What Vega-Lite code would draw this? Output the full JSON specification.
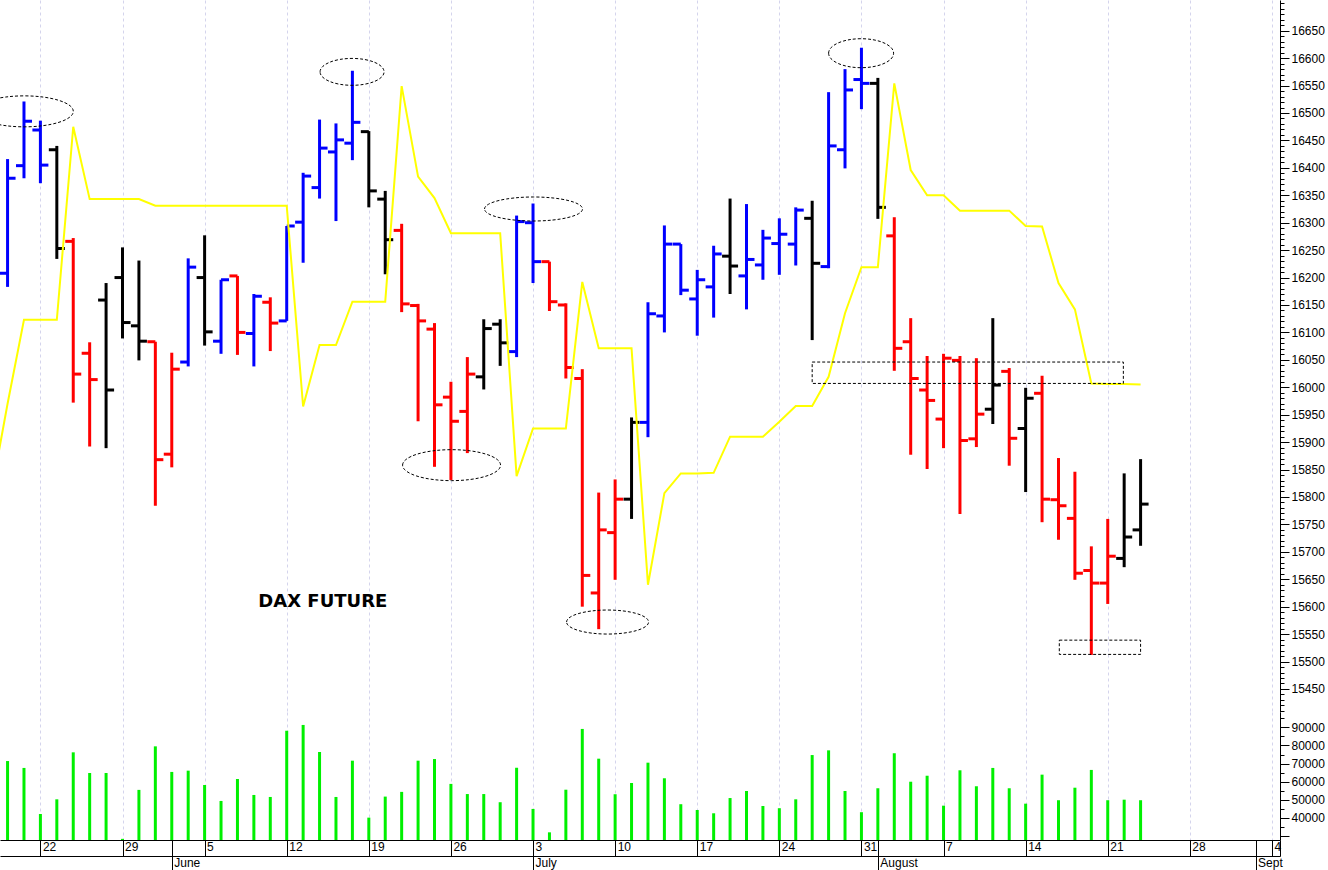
{
  "$schema": "https://vega.github.io/schema/vega-lite/v6.json",
  "padding": 0,
  "background": "white",
  "spacing": 0,
  "config": {
    "view": {"stroke": null},
    "axis": {"labelFont": "Liberation Sans", "labelFontSize": 12, "labelColor": "#000000", "domainColor": "#000000", "tickColor": "#000000", "domainWidth": 1, "tickWidth": 1}
  },
  "datasets": {
    "bars": [
      {"i":0,"date":"2023-05-18","open":16208,"high":16416,"low":16183,"close":16381,"signal":"up","volume":71400},
      {"i":1,"date":"2023-05-19","open":16404,"high":16521,"low":16381,"close":16485,"signal":"up","volume":67600},
      {"i":2,"date":"2023-05-22","open":16469,"high":16486,"low":16372,"close":16405,"signal":"up","volume":42200},
      {"i":3,"date":"2023-05-23","open":16433,"high":16440,"low":16234,"close":16253,"signal":"flat","volume":50300},
      {"i":4,"date":"2023-05-24","open":16266,"high":16272,"low":15972,"close":16024,"signal":"down","volume":76200},
      {"i":5,"date":"2023-05-25","open":16062,"high":16082,"low":15892,"close":16014,"signal":"down","volume":64800},
      {"i":6,"date":"2023-05-26","open":16159,"high":16190,"low":15889,"close":15995,"signal":"flat","volume":64800},
      {"i":7,"date":"2023-05-29","open":16200,"high":16255,"low":16089,"close":16118,"signal":"flat","volume":28500},
      {"i":8,"date":"2023-05-30","open":16112,"high":16231,"low":16049,"close":16084,"signal":"flat","volume":55500},
      {"i":9,"date":"2023-05-31","open":16083,"high":16083,"low":15784,"close":15868,"signal":"down","volume":79500},
      {"i":10,"date":"2023-06-01","open":15878,"high":16063,"low":15854,"close":16033,"signal":"down","volume":65400},
      {"i":11,"date":"2023-06-02","open":16046,"high":16235,"low":16038,"close":16219,"signal":"up","volume":66100},
      {"i":12,"date":"2023-06-05","open":16200,"high":16277,"low":16076,"close":16101,"signal":"flat","volume":58200},
      {"i":13,"date":"2023-06-06","open":16084,"high":16196,"low":16061,"close":16196,"signal":"up","volume":49400},
      {"i":14,"date":"2023-06-07","open":16203,"high":16203,"low":16059,"close":16100,"signal":"down","volume":61500},
      {"i":15,"date":"2023-06-08","open":16098,"high":16170,"low":16038,"close":16166,"signal":"up","volume":52700},
      {"i":16,"date":"2023-06-09","open":16155,"high":16164,"low":16066,"close":16117,"signal":"down","volume":51600},
      {"i":17,"date":"2023-06-12","open":16121,"high":16294,"low":16121,"close":16294,"signal":"up","volume":88100},
      {"i":18,"date":"2023-06-13","open":16301,"high":16391,"low":16227,"close":16385,"signal":"up","volume":91300},
      {"i":19,"date":"2023-06-14","open":16364,"high":16488,"low":16344,"close":16436,"signal":"up","volume":76400},
      {"i":20,"date":"2023-06-15","open":16429,"high":16481,"low":16303,"close":16451,"signal":"up","volume":51600},
      {"i":21,"date":"2023-06-16","open":16445,"high":16577,"low":16414,"close":16483,"signal":"up","volume":71600},
      {"i":22,"date":"2023-06-19","open":16466,"high":16467,"low":16328,"close":16358,"signal":"flat","volume":40200},
      {"i":23,"date":"2023-06-20","open":16343,"high":16358,"low":16206,"close":16269,"signal":"flat","volume":51800},
      {"i":24,"date":"2023-06-21","open":16286,"high":16298,"low":16137,"close":16152,"signal":"down","volume":54400},
      {"i":25,"date":"2023-06-22","open":16149,"high":16152,"low":15938,"close":16121,"signal":"down","volume":71600},
      {"i":26,"date":"2023-06-23","open":16106,"high":16117,"low":15855,"close":15968,"signal":"down","volume":72500},
      {"i":27,"date":"2023-06-26","open":15982,"high":16010,"low":15831,"close":15938,"signal":"down","volume":58800},
      {"i":28,"date":"2023-06-27","open":15956,"high":16055,"low":15880,"close":16024,"signal":"down","volume":53200},
      {"i":29,"date":"2023-06-28","open":16019,"high":16124,"low":15996,"close":16107,"signal":"flat","volume":53200},
      {"i":30,"date":"2023-06-29","open":16115,"high":16124,"low":16039,"close":16081,"signal":"flat","volume":48700},
      {"i":31,"date":"2023-06-30","open":16065,"high":16313,"low":16055,"close":16302,"signal":"up","volume":67700},
      {"i":32,"date":"2023-07-03","open":16300,"high":16335,"low":16190,"close":16229,"signal":"up","volume":45000},
      {"i":33,"date":"2023-07-04","open":16229,"high":16229,"low":16139,"close":16156,"signal":"down","volume":32100},
      {"i":34,"date":"2023-07-05","open":16150,"high":16153,"low":16016,"close":16036,"signal":"down","volume":55600},
      {"i":35,"date":"2023-07-06","open":16016,"high":16033,"low":15600,"close":15657,"signal":"down","volume":89100},
      {"i":36,"date":"2023-07-07","open":15625,"high":15808,"low":15559,"close":15740,"signal":"down","volume":72700},
      {"i":37,"date":"2023-07-10","open":15735,"high":15832,"low":15649,"close":15796,"signal":"down","volume":53100},
      {"i":38,"date":"2023-07-11","open":15796,"high":15945,"low":15760,"close":15936,"signal":"flat","volume":59300},
      {"i":39,"date":"2023-07-12","open":15936,"high":16155,"low":15909,"close":16134,"signal":"up","volume":70500},
      {"i":40,"date":"2023-07-13","open":16130,"high":16295,"low":16100,"close":16261,"signal":"up","volume":61900},
      {"i":41,"date":"2023-07-14","open":16261,"high":16261,"low":16168,"close":16177,"signal":"up","volume":47600},
      {"i":42,"date":"2023-07-17","open":16161,"high":16214,"low":16094,"close":16196,"signal":"up","volume":44400},
      {"i":43,"date":"2023-07-18","open":16183,"high":16258,"low":16127,"close":16243,"signal":"up","volume":42600},
      {"i":44,"date":"2023-07-19","open":16239,"high":16344,"low":16170,"close":16221,"signal":"flat","volume":51000},
      {"i":45,"date":"2023-07-20","open":16203,"high":16334,"low":16142,"close":16233,"signal":"up","volume":54900},
      {"i":46,"date":"2023-07-21","open":16223,"high":16287,"low":16196,"close":16272,"signal":"up","volume":46600},
      {"i":47,"date":"2023-07-24","open":16262,"high":16308,"low":16205,"close":16279,"signal":"up","volume":45400},
      {"i":48,"date":"2023-07-25","open":16261,"high":16328,"low":16222,"close":16323,"signal":"up","volume":50300},
      {"i":49,"date":"2023-07-26","open":16308,"high":16340,"low":16086,"close":16226,"signal":"flat","volume":74700},
      {"i":50,"date":"2023-07-27","open":16220,"high":16538,"low":16217,"close":16440,"signal":"up","volume":77300},
      {"i":51,"date":"2023-07-28","open":16433,"high":16580,"low":16399,"close":16542,"signal":"up","volume":54900},
      {"i":52,"date":"2023-07-31","open":16561,"high":16619,"low":16507,"close":16554,"signal":"up","volume":43200},
      {"i":53,"date":"2023-08-01","open":16554,"high":16564,"low":16307,"close":16328,"signal":"flat","volume":56400},
      {"i":54,"date":"2023-08-02","open":16276,"high":16310,"low":16030,"close":16071,"signal":"down","volume":75700},
      {"i":55,"date":"2023-08-03","open":16083,"high":16126,"low":15877,"close":16016,"signal":"down","volume":60000},
      {"i":56,"date":"2023-08-04","open":15995,"high":16057,"low":15851,"close":15976,"signal":"down","volume":63300},
      {"i":57,"date":"2023-08-07","open":15942,"high":16061,"low":15889,"close":16053,"signal":"down","volume":46800},
      {"i":58,"date":"2023-08-08","open":16049,"high":16057,"low":15769,"close":15903,"signal":"down","volume":66300},
      {"i":59,"date":"2023-08-09","open":15906,"high":16053,"low":15891,"close":15951,"signal":"down","volume":57500},
      {"i":60,"date":"2023-08-10","open":15960,"high":16126,"low":15933,"close":16004,"signal":"flat","volume":67600},
      {"i":61,"date":"2023-08-11","open":16029,"high":16035,"low":15857,"close":15907,"signal":"down","volume":56400},
      {"i":62,"date":"2023-08-14","open":15925,"high":15999,"low":15809,"close":15980,"signal":"flat","volume":47900},
      {"i":63,"date":"2023-08-15","open":15989,"high":16021,"low":15754,"close":15796,"signal":"down","volume":63900},
      {"i":64,"date":"2023-08-16","open":15795,"high":15871,"low":15722,"close":15784,"signal":"down","volume":49800},
      {"i":65,"date":"2023-08-17","open":15761,"high":15846,"low":15649,"close":15661,"signal":"down","volume":56700},
      {"i":66,"date":"2023-08-18","open":15666,"high":15710,"low":15512,"close":15643,"signal":"down","volume":66500},
      {"i":67,"date":"2023-08-21","open":15643,"high":15760,"low":15605,"close":15692,"signal":"down","volume":49800},
      {"i":68,"date":"2023-08-22","open":15688,"high":15843,"low":15672,"close":15727,"signal":"flat","volume":50100},
      {"i":69,"date":"2023-08-23","open":15740,"high":15869,"low":15711,"close":15787,"signal":"flat","volume":49800}
    ],
    "yellow": [
      {"i":-1,"level":15806},{"i":0,"level":15970},{"i":1,"level":16123},{"i":2,"level":16123},{"i":3,"level":16123},
      {"i":4,"level":16475},{"i":5,"level":16343},{"i":6,"level":16343},{"i":7,"level":16343},{"i":8,"level":16343},
      {"i":9,"level":16331},{"i":10,"level":16331},{"i":11,"level":16331},{"i":12,"level":16331},{"i":13,"level":16331},
      {"i":14,"level":16331},{"i":15,"level":16331},{"i":16,"level":16331},{"i":17,"level":16331},{"i":18,"level":15965},
      {"i":19,"level":16077},{"i":20,"level":16077},{"i":21,"level":16156},{"i":22,"level":16156},{"i":23,"level":16156},
      {"i":24,"level":16549},{"i":25,"level":16384},{"i":26,"level":16345},{"i":27,"level":16281},{"i":28,"level":16281},
      {"i":29,"level":16281},{"i":30,"level":16281},{"i":31,"level":15838},{"i":32,"level":15925},{"i":33,"level":15925},
      {"i":34,"level":15925},{"i":35,"level":16192},{"i":36,"level":16071},{"i":37,"level":16071},{"i":38,"level":16071},
      {"i":39,"level":15640},{"i":40,"level":15807},{"i":41,"level":15843},{"i":42,"level":15843},{"i":43,"level":15844},
      {"i":44,"level":15910},{"i":45,"level":15910},{"i":46,"level":15910},{"i":47,"level":15937},{"i":48,"level":15966},
      {"i":49,"level":15966},{"i":50,"level":16019},{"i":51,"level":16135},{"i":52,"level":16219},{"i":53,"level":16219},
      {"i":54,"level":16554},{"i":55,"level":16396},{"i":56,"level":16350},{"i":57,"level":16350},{"i":58,"level":16322},
      {"i":59,"level":16322},{"i":60,"level":16322},{"i":61,"level":16322},{"i":62,"level":16294},{"i":63,"level":16293},
      {"i":64,"level":16190},{"i":65,"level":16142},{"i":66,"level":16007},{"i":67,"level":16006},{"i":68,"level":16006},
      {"i":69,"level":16005}
    ],
    "ellipses": [
      {"id":"E1","i":1.02,"p":16503},
      {"id":"E2","i":20.98,"p":16575},
      {"id":"E3","i":32.03,"p":16325},
      {"id":"E4","i":27.04,"p":15858},
      {"id":"E5","i":36.54,"p":15572},
      {"id":"E6","i":51.98,"p":16609}
    ],
    "boxes": [
      {"i":49.0,"i2":67.95,"p":16007,"p2":16046},
      {"i":64.05,"i2":69.0,"p":15513,"p2":15539}
    ],
    "labels": [
      {"i":19.2,"p":15609,"text":"DAX FUTURE"}
    ]
  },
  "vconcat": [
    {
      "width": 1280,
      "height": 712,
      "layer": [
        {
          "data": {"name": "bars"},
          "mark": {"type": "rule", "strokeWidth": 3, "clip": true},
          "encoding": {
            "x": {
              "field": "i", "type": "quantitative",
              "scale": {"domain": [-0.4604, 77.49], "nice": false, "zero": false},
              "axis": {"orient": "bottom", "values": [2,7,12,17,22,27,32,37,42,47,52,57,62,67,72,77], "grid": true, "gridColor": "#d4d4ec", "gridDash": [3,3], "gridWidth": 1, "labels": false, "ticks": false, "domain": false, "title": null, "minExtent": 0, "maxExtent": 0}
            },
            "y": {
              "field": "low", "type": "quantitative",
              "scale": {"domain": [15408, 16706], "nice": false, "zero": false},
              "axis": {
                "orient": "right", "title": null, "format": "d", "grid": false,
                "values": [15450,15500,15550,15600,15650,15700,15750,15800,15850,15900,15950,16000,16050,16100,16150,16200,16250,16300,16350,16400,16450,16500,16550,16600,16650],
                "tickSize": 9, "labelPadding": 2
              }
            },
            "y2": {"field": "high"},
            "color": {"field": "signal", "type": "nominal", "scale": {"domain": ["up","down","flat"], "range": ["#0000ff","#ff0000","#000000"]}, "legend": null}
          }
        },
        {
          "data": {"name": "bars"},
          "mark": {"type": "tick", "orient": "horizontal", "size": 8, "thickness": 3, "xOffset": -4, "opacity": 1, "clip": true},
          "encoding": {
            "x": {"field": "i", "type": "quantitative"},
            "y": {"field": "open", "type": "quantitative", "axis": null},
            "color": {"field": "signal", "type": "nominal", "legend": null}
          }
        },
        {
          "data": {"name": "bars"},
          "mark": {"type": "tick", "orient": "horizontal", "size": 8, "thickness": 3, "xOffset": 4, "opacity": 1, "clip": true},
          "encoding": {
            "x": {"field": "i", "type": "quantitative"},
            "y": {"field": "close", "type": "quantitative", "axis": null},
            "color": {"field": "signal", "type": "nominal", "legend": null}
          }
        },
        {
          "data": {"name": "yellow"},
          "mark": {"type": "line", "color": "#ffff00", "strokeWidth": 2, "clip": true},
          "encoding": {
            "x": {"field": "i", "type": "quantitative"},
            "y": {
              "field": "level", "type": "quantitative",
              "axis": {
                "orient": "right", "title": null, "grid": false, "labels": false, "domain": false, "tickSize": 4,
                "values": [15410,15420,15430,15440,15460,15470,15480,15490,15510,15520,15530,15540,15560,15570,15580,15590,15610,15620,15630,15640,15660,15670,15680,15690,15710,15720,15730,15740,15760,15770,15780,15790,15810,15820,15830,15840,15860,15870,15880,15890,15910,15920,15930,15940,15960,15970,15980,15990,16010,16020,16030,16040,16060,16070,16080,16090,16110,16120,16130,16140,16160,16170,16180,16190,16210,16220,16230,16240,16260,16270,16280,16290,16310,16320,16330,16340,16360,16370,16380,16390,16410,16420,16430,16440,16460,16470,16480,16490,16510,16520,16530,16540,16560,16570,16580,16590,16610,16620,16630,16640,16660,16670,16680,16690,16700]
              }
            }
          }
        },
        {
          "data": {"name": "ellipses"},
          "transform": [{"filter": "datum.id == 'E1' || datum.id == 'E4'"}],
          "mark": {"type": "point", "filled": false, "opacity": 1, "stroke": "#000000", "strokeWidth": 1, "strokeDash": [3,2], "size": 9604, "clip": true,
                   "shape": "M-1,0C-1,-0.1745,-0.552,-0.316,0,-0.316C0.552,-0.316,1,-0.1745,1,0C1,0.1745,0.552,0.316,0,0.316C-0.552,0.316,-1,0.1745,-1,0Z"},
          "encoding": {"x": {"field": "i", "type": "quantitative"}, "y": {"field": "p", "type": "quantitative", "axis": null}}
        },
        {
          "data": {"name": "ellipses"},
          "transform": [{"filter": "datum.id == 'E3'"}],
          "mark": {"type": "point", "filled": false, "opacity": 1, "stroke": "#000000", "strokeWidth": 1, "strokeDash": [3,2], "size": 9604, "clip": true,
                   "shape": "M-1,0C-1,-0.1352,-0.552,-0.245,0,-0.245C0.552,-0.245,1,-0.1352,1,0C1,0.1352,0.552,0.245,0,0.245C-0.552,0.245,-1,0.1352,-1,0Z"},
          "encoding": {"x": {"field": "i", "type": "quantitative"}, "y": {"field": "p", "type": "quantitative", "axis": null}}
        },
        {
          "data": {"name": "ellipses"},
          "transform": [{"filter": "datum.id == 'E2'"}],
          "mark": {"type": "point", "filled": false, "opacity": 1, "stroke": "#000000", "strokeWidth": 1, "strokeDash": [3,2], "size": 4096, "clip": true,
                   "shape": "M-1,0C-1,-0.2318,-0.552,-0.42,0,-0.42C0.552,-0.42,1,-0.2318,1,0C1,0.2318,0.552,0.42,0,0.42C-0.552,0.42,-1,0.2318,-1,0Z"},
          "encoding": {"x": {"field": "i", "type": "quantitative"}, "y": {"field": "p", "type": "quantitative", "axis": null}}
        },
        {
          "data": {"name": "ellipses"},
          "transform": [{"filter": "datum.id == 'E5'"}],
          "mark": {"type": "point", "filled": false, "opacity": 1, "stroke": "#000000", "strokeWidth": 1, "strokeDash": [3,2], "size": 6724, "clip": true,
                   "shape": "M-1,0C-1,-0.1617,-0.552,-0.293,0,-0.293C0.552,-0.293,1,-0.1617,1,0C1,0.1617,0.552,0.293,0,0.293C-0.552,0.293,-1,0.1617,-1,0Z"},
          "encoding": {"x": {"field": "i", "type": "quantitative"}, "y": {"field": "p", "type": "quantitative", "axis": null}}
        },
        {
          "data": {"name": "ellipses"},
          "transform": [{"filter": "datum.id == 'E6'"}],
          "mark": {"type": "point", "filled": false, "opacity": 1, "stroke": "#000000", "strokeWidth": 1, "strokeDash": [3,2], "size": 4225, "clip": true,
                   "shape": "M-1,0C-1,-0.2462,-0.552,-0.446,0,-0.446C0.552,-0.446,1,-0.2462,1,0C1,0.2462,0.552,0.446,0,0.446C-0.552,0.446,-1,0.2462,-1,0Z"},
          "encoding": {"x": {"field": "i", "type": "quantitative"}, "y": {"field": "p", "type": "quantitative", "axis": null}}
        },
        {
          "data": {"name": "boxes"},
          "mark": {"type": "rect", "filled": false, "stroke": "#000000", "strokeWidth": 1, "strokeDash": [3,2], "clip": true},
          "encoding": {
            "x": {"field": "i", "type": "quantitative"},
            "x2": {"field": "i2"},
            "y": {"field": "p", "type": "quantitative", "axis": null},
            "y2": {"field": "p2"}
          }
        },
        {
          "data": {"name": "labels"},
          "mark": {"type": "text", "font": "DejaVu Sans", "fontWeight": "bold", "fontSize": 18, "color": "#000000", "align": "center", "baseline": "middle"},
          "encoding": {
            "x": {"field": "i", "type": "quantitative"},
            "y": {"field": "p", "type": "quantitative", "axis": null},
            "text": {"field": "text"}
          }
        }
      ],
      "resolve": {"axis": {"y": "independent"}}
    },
    {
      "width": 1280,
      "height": 128,
      "layer": [
        {
          "data": {"name": "bars"},
          "mark": {"type": "rule", "color": "#00f000", "strokeWidth": 3},
          "encoding": {
            "x": {
              "field": "i", "type": "quantitative",
              "scale": {"domain": [-0.4604, 77.49], "nice": false, "zero": false},
              "axis": {
                "orient": "bottom", "title": null,
                "values": [2,7,10,12,17,22,27,32,37,42,47,52,53,57,62,67,72,76,77,77.49],
                "tickSize": 16, "domain": true,
                "labelExpr": "datum.value % 5 == 2 ? ['22','29','5','12','19','26','3','10','17','24','31','7','14','21','28','4'][(datum.value - 2) / 5] : ''",
                "labelAlign": "left", "labelBaseline": "top", "labelPadding": -15, "labelOffset": 2,
                "labelOverlap": false, "labelBound": false, "labelFlush": false,
                "grid": true, "gridColor": "#d4d4ec", "gridDash": [3,3], "gridWidth": 1,
                "gridOpacity": {"condition": {"test": "datum.value % 5 == 2", "value": 1}, "value": 0}
              }
            },
            "y": {
              "field": "volume", "type": "quantitative",
              "scale": {"domain": [27870, 98435], "nice": false, "zero": false},
              "axis": {
                "orient": "right", "title": null, "format": "d", "grid": false,
                "values": [30000,40000,50000,60000,70000,80000,90000],
                "tickSize": 9,
                "labelExpr": "datum.value >= 40000 ? datum.label : ''",
                "labelPadding": 2
              }
            },
            "y2": {"datum": 27870}
          }
        },
        {
          "data": {"name": "bars"},
          "mark": {"type": "rule", "opacity": 0},
          "encoding": {
            "x": {
              "field": "i", "type": "quantitative",
              "axis": {
                "orient": "bottom", "title": null, "offset": 16,
                "values": [10,32,53,76],
                "tickSize": 14, "domain": true, "grid": false,
                "labelExpr": "datum.value == 10 ? 'June' : datum.value == 32 ? 'July' : datum.value == 53 ? 'August' : datum.value == 76 ? 'Sept' : ''",
                "labelAlign": "left", "labelBaseline": "top", "labelPadding": -13, "labelOffset": 2,
                "labelOverlap": false, "labelBound": false, "labelFlush": false
              }
            },
            "y": {
              "field": "volume", "type": "quantitative",
              "axis": {
                "orient": "right", "title": null, "grid": false, "labels": false, "domain": false, "tickSize": 4,
                "values": [35000,45000,55000,65000,75000,85000,95000]
              }
            }
          }
        }
      ],
      "resolve": {"axis": {"x": "independent", "y": "independent"}}
    }
  ]
}
